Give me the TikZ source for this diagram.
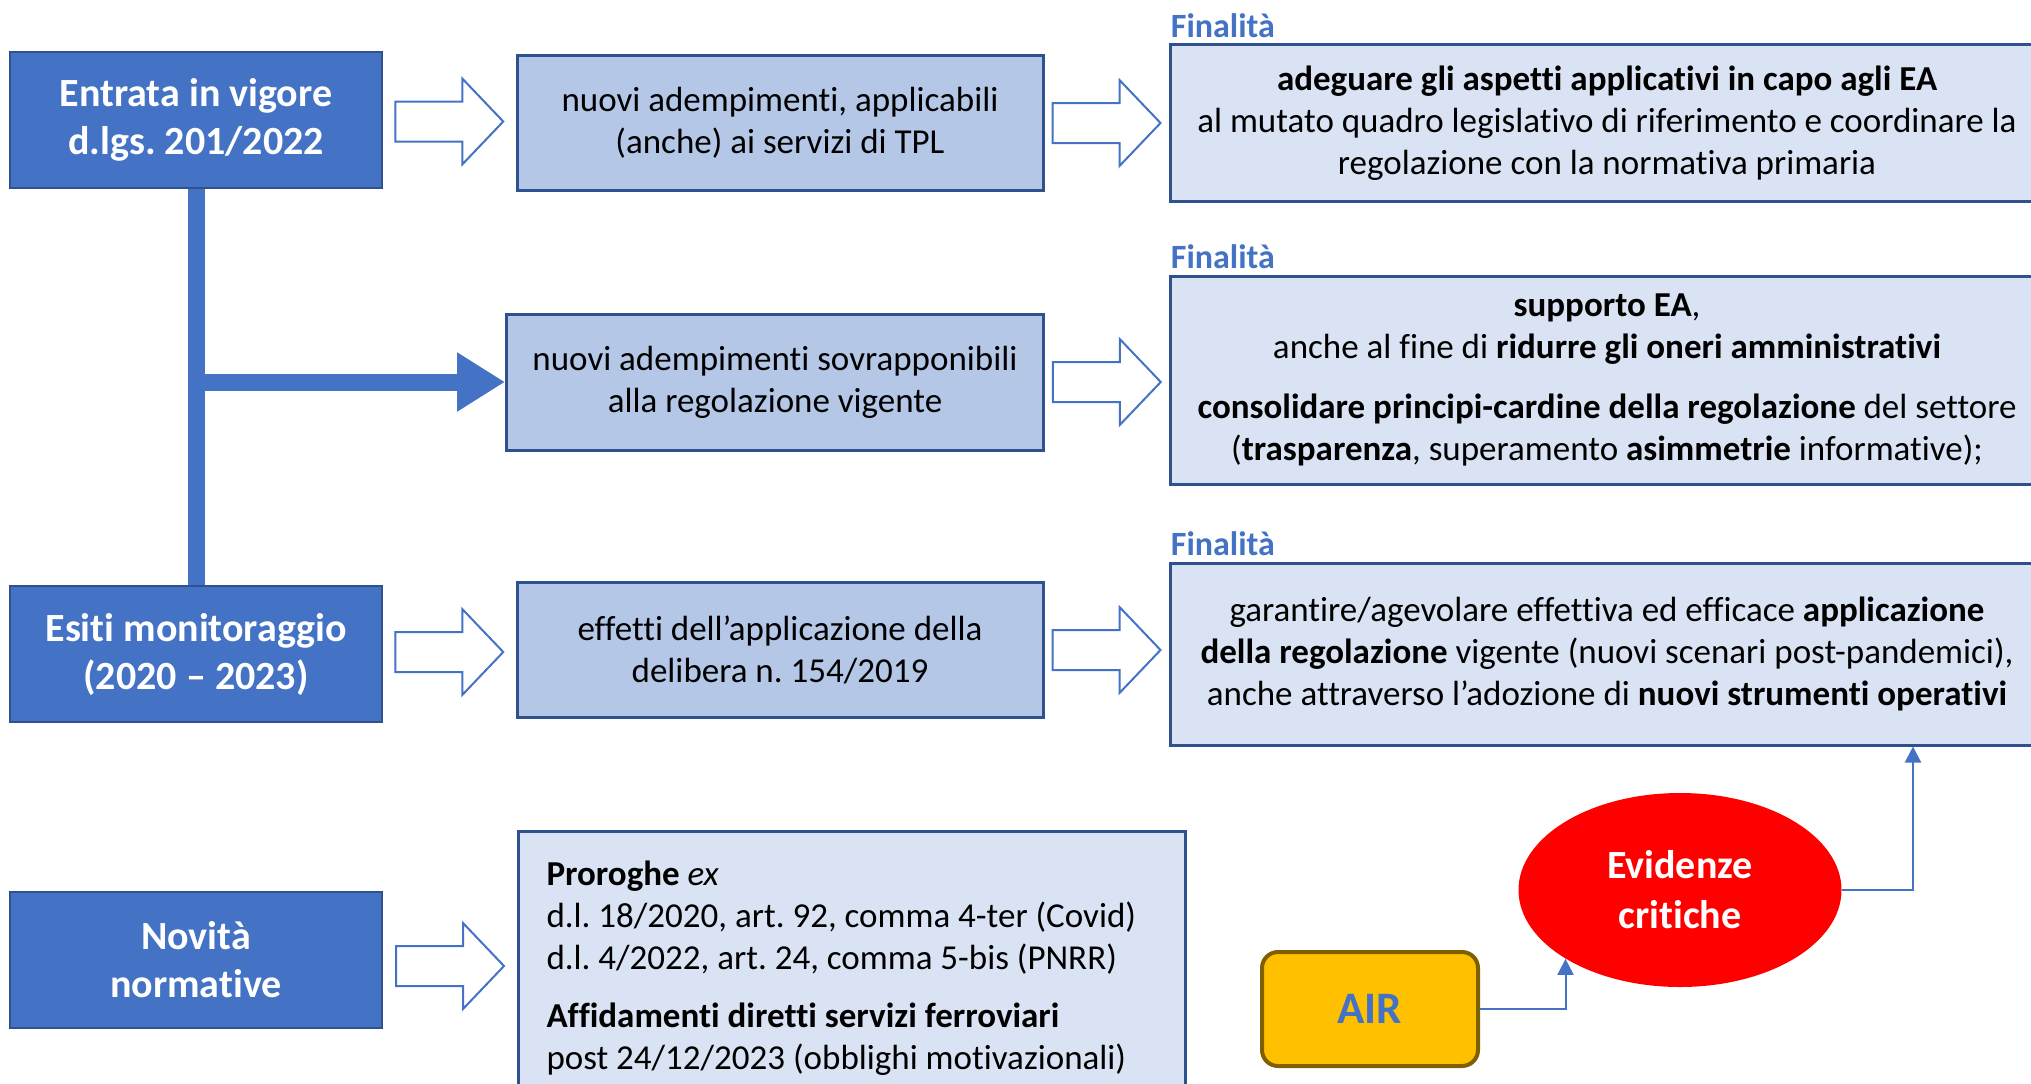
\documentclass[tikz,border=0pt]{standalone}
\usepackage{fontspec}
\setmainfont[Ligatures={TeX,NoCommon}]{Carlito}
\frenchspacing
\usetikzlibrary{positioning, calc, arrows.meta, shapes.geometric}
\definecolor{accent}{HTML}{4472C4}
\definecolor{boxedge}{HTML}{2F528F}
\definecolor{midfill}{HTML}{B4C7E7}
\definecolor{lightfill}{HTML}{DAE3F3}
\definecolor{airfill}{HTML}{FFC000}
\definecolor{airedge}{HTML}{7F6000}
\tikzset{
  srcbox/.style={draw=boxedge, line width=1pt, fill=accent, text=white, align=center,
    font=\fontsize{20}{24}\selectfont\bfseries, minimum width=186pt, minimum height=68pt},
  midbox/.style={draw=boxedge, line width=1.5pt, fill=midfill, align=center,
    font=\fontsize{17.5}{21}\selectfont, minimum width=263pt, minimum height=67.5pt},
  finbox/.style={draw=boxedge, line width=1.5pt, fill=lightfill, align=center,
    font=\fontsize{17.5}{21}\selectfont, minimum width=437pt},
  finlabel/.style={inner sep=0pt, text=accent, font=\fontsize{17}{20}\selectfont\bfseries},
  bus/.style={draw=accent, line width=8.5pt},
  link/.style={draw=accent, line width=1pt, -{Triangle[length=8pt,width=8pt]}},
  hollow/.pic={\draw[accent, line width=1pt, fill=white]
    (-54,-20) -- (13,-20) -- (13,-43) -- (54,0) -- (13,43) -- (13,20) -- (-54,20) -- cycle;},
}
\begin{document}
\begin{tikzpicture}[x=0.5pt, y=-0.5pt]
  \useasboundingbox (0,0) rectangle (2031,1083);
  % sources
  \node[srcbox] (entrata) at (196,120) {Entrata in vigore\\d.lgs. 201/2022};
  \node[srcbox] (esiti) at (196,654) {Esiti monitoraggio\\(2020 – 2023)};
  \node[srcbox] (novita) at (196,960) {Novità\\normative};
  % effects
  \node[midbox] (nuovi) at (780,123) {nuovi adempimenti, applicabili\\(anche) ai servizi di TPL};
  \node[midbox, minimum width=268.5pt, minimum height=68pt] (sovrap) at (775,382)
    {nuovi adempimenti sovrapponibili\\alla regolazione vigente};
  \node[midbox] (effetti) at (780,650) {effetti dell’applicazione della\\delibera n. 154/2019};
  \node[finbox, anchor=north west, inner xsep=0pt,
    minimum width=333.5pt, minimum height=138pt] (proroghe) at (517,830)
    {\makebox[305.5pt][l]{\begin{tabular}{@{}l@{}}
     \textbf{Proroghe} \textit{ex}\\
     d.l. 18/2020, art. 92, comma 4-ter (Covid)\\
     d.l. 4/2022, art. 24, comma 5-bis (PNRR)\\[8pt]
     \textbf{Affidamenti diretti servizi ferroviari}\\
     post 24/12/2023 (obblighi motivazionali)
     \end{tabular}}};
  % aims
  \node[finbox, minimum height=78.5pt] (fin1) at (1607,123)
    {\textbf{adeguare gli aspetti applicativi in capo agli EA}\\
     al mutato quadro legislativo di riferimento e coordinare la\\
     regolazione con la normativa primaria};
  \node[finbox, minimum height=104pt] (fin2) at (1607,380)
    {\textbf{supporto EA},\\
     anche al fine di \textbf{ridurre gli oneri amministrativi}\\[9pt]
     \textbf{consolidare principi-cardine della regolazione} del settore\\
     (\textbf{trasparenza}, superamento \textbf{asimmetrie} informative);};
  \node[finbox, minimum height=91pt] (fin3) at (1607,654)
    {garantire/agevolare effettiva ed efficace \textbf{applicazione}\\
     \textbf{della regolazione} vigente (nuovi scenari post-pandemici),\\
     anche attraverso l’adozione di \textbf{nuovi strumenti operativi}};
  \foreach \f in {fin1,fin2,fin3}
    \node[finlabel, anchor=base west] (\f-lab) at ([xshift=1pt,yshift=3pt]\f.north west) {Finalità};
  % connectors
  \draw[bus] (entrata.south) -- (esiti.north);
  \draw[bus, -{Triangle[length=24pt,width=28pt]}] (entrata.south |- sovrap.west) -- (sovrap.west);
  \pic at ($(entrata.east)!0.5!(nuovi.west)$) {hollow};
  \pic at ($(esiti.east)!0.5!(effetti.west)$) {hollow};
  \pic[yshift=-3pt] at ($(novita.east)!0.5!(proroghe.west |- novita.east)$) {hollow};
  \pic at ($(nuovi.east)!0.5!(fin1.west |- nuovi.east)$) {hollow};
  \pic at ($(sovrap.east)!0.5!(fin2.west |- sovrap.east)$) {hollow};
  \pic at ($(effetti.east)!0.5!(fin3.west |- effetti.east)$) {hollow};
  % AIR
  \node[draw=airedge, line width=2pt, fill=airfill, rounded corners=8pt, text=accent,
    font=\fontsize{22.5}{27}\selectfont\bfseries, minimum width=108pt, minimum height=57pt]
    (air) at (1370,1009) {AIR};
  \node[ellipse, fill=red, text=white, align=center, inner sep=0pt,
    font=\fontsize{20}{25}\selectfont\bfseries, minimum width=161.5pt, minimum height=97pt]
    (evid) at (1680,890) {Evidenze\\critiche};
  \draw[link] (air.east) -| (evid.south west);
  \draw[link] (evid.east) -| ([xshift=153pt]fin3.south);
\end{tikzpicture}
\end{document}
